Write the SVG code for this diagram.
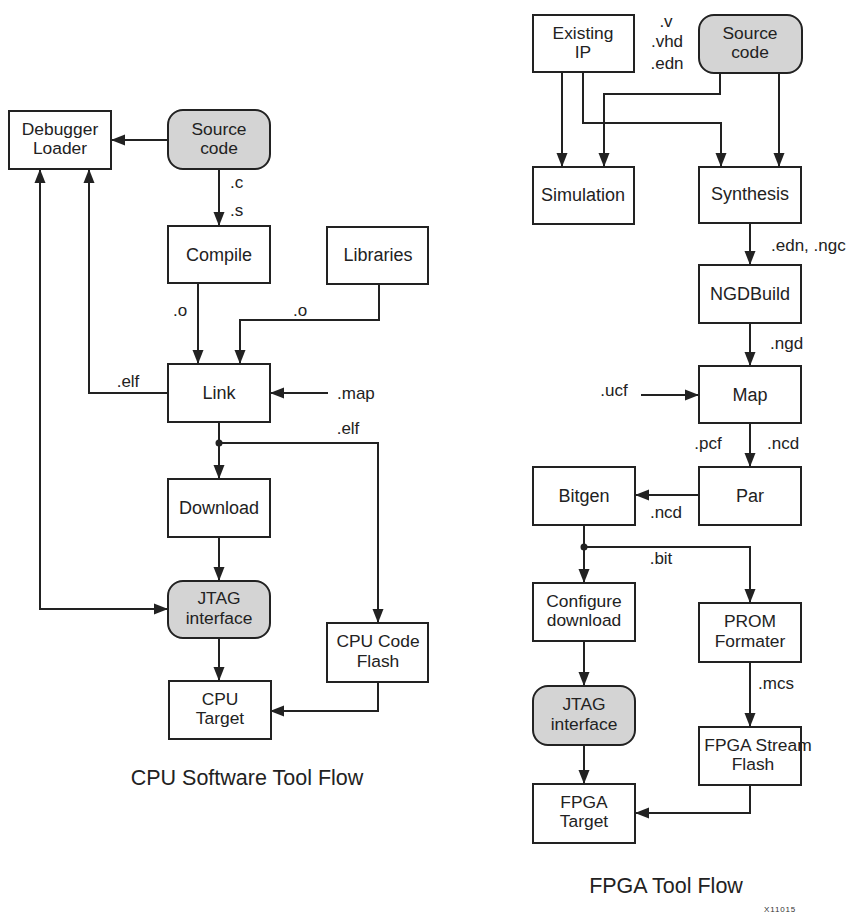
<svg xmlns="http://www.w3.org/2000/svg" width="852" height="913" viewBox="0 0 852 913">
<style>
.box{fill:#fff;stroke:#222;stroke-width:2}
.rbox{fill:#d4d4d4;stroke:#222;stroke-width:2}
.t{font-family:"Liberation Sans",Arial,sans-serif;font-size:18px;fill:#222;text-anchor:middle}
.t2{font-family:"Liberation Sans",Arial,sans-serif;font-size:17.4px;fill:#222;text-anchor:middle}
.l{font-family:"Liberation Sans",Arial,sans-serif;font-size:17px;fill:#222}
.c{text-anchor:middle}
.ttl{font-family:"Liberation Sans",Arial,sans-serif;font-size:21.5px;fill:#222;text-anchor:middle}
.w{fill:none;stroke:#222;stroke-width:2;marker-end:url(#ah)}
</style>
<defs>
<marker id="ah" markerUnits="userSpaceOnUse" markerWidth="14" markerHeight="12" refX="14" refY="6" orient="auto-start-reverse"><path d="M0,0.5 L14,6 L0,11.5 z" fill="#222"/></marker>
</defs>
<rect width="852" height="913" fill="#fff"/>

<g id="connectors">
<path class="w" d="M168,140 H111"/>
<path class="w" d="M219,169 V226"/>
<path class="w" d="M198,283 V364"/>
<path class="w" d="M379,284 V320 H240 V364"/>
<path class="w" d="M328,393 H270"/>
<path class="w" d="M168,393 H89 V169"/>
<path class="w" d="M219,422 V479"/>
<path class="w" d="M219,443 H378 V623"/>
<circle cx="219" cy="443" r="3.5" fill="#222"/>
<path class="w" d="M219,537 V581"/>
<path class="w" style="marker-start:url(#ah)" d="M40,169 V609 H168"/>
<path class="w" d="M219,638 V681"/>
<path class="w" d="M378,682 V711 H270"/>

<path class="w" d="M562,72 V167"/>
<path class="w" d="M583,72 V123 H721 V167"/>
<path class="w" d="M720,73 V94 H604 V167"/>
<path class="w" d="M779,73 V167"/>
<path class="w" d="M750,223 V265"/>
<path class="w" d="M750,323 V366"/>
<path class="w" d="M641,395 H699"/>
<path class="w" d="M750,423 V467"/>
<path class="w" d="M699,495 H635"/>
<path class="w" d="M584,525 V583"/>
<path class="w" d="M584,547 H750 V603"/>
<circle cx="584" cy="547" r="3.5" fill="#222"/>
<path class="w" d="M584,641 V686"/>
<path class="w" d="M584,745 V784"/>
<path class="w" d="M750,662 V727"/>
<path class="w" d="M750,785 V813 H635"/>
</g>

<g id="labels">
<text class="l" x="230" y="188">.c</text>
<text class="l" x="230" y="216">.s</text>
<text class="l c" x="180" y="316">.o</text>
<text class="l c" x="300" y="316">.o</text>
<text class="l" x="337" y="399">.map</text>
<text class="l c" x="128" y="387">.elf</text>
<text class="l c" x="348" y="434">.elf</text>

<text class="l c" x="666" y="27">.v</text>
<text class="l c" x="667" y="47">.vhd</text>
<text class="l c" x="667" y="69">.edn</text>
<text class="l" x="771" y="251">.edn, .ngc</text>
<text class="l" x="770" y="349">.ngd</text>
<text class="l c" x="614" y="396">.ucf</text>
<text class="l c" x="708" y="449">.pcf</text>
<text class="l" x="767" y="449">.ncd</text>
<text class="l c" x="666" y="518">.ncd</text>
<text class="l c" x="661" y="564">.bit</text>
<text class="l" x="758" y="689">.mcs</text>
</g>

<g id="debugger-loader"><rect class="box" x="9" y="111" width="102" height="58"/><text class="t2" x="60" y="134.5">Debugger</text><text class="t2" x="60" y="154">Loader</text></g>
<g id="source-code-cpu"><rect class="rbox" x="168" y="110" width="102" height="59" rx="15"/><text class="t2" x="219" y="134.5">Source</text><text class="t2" x="219" y="154">code</text></g>
<g id="compile"><rect class="box" x="168" y="226" width="102" height="57"/><text class="t" x="219" y="261">Compile</text></g>
<g id="libraries"><rect class="box" x="327" y="227" width="101" height="57"/><text class="t" x="378" y="261">Libraries</text></g>
<g id="link"><rect class="box" x="168" y="364" width="102" height="58"/><text class="t" x="219" y="399">Link</text></g>
<g id="download"><rect class="box" x="168" y="479" width="102" height="58"/><text class="t" x="219" y="514">Download</text></g>
<g id="jtag-cpu"><rect class="rbox" x="168" y="581" width="102" height="57" rx="15"/><text class="t2" x="219" y="604">JTAG</text><text class="t2" x="219" y="623.5">interface</text></g>
<g id="cpu-code-flash"><rect class="box" x="327" y="623" width="101" height="59"/><text class="t2" x="378" y="647">CPU Code</text><text class="t2" x="378" y="666.5">Flash</text></g>
<g id="cpu-target"><rect class="box" x="169" y="681" width="102" height="58"/><text class="t2" x="220" y="704.5">CPU</text><text class="t2" x="220" y="724">Target</text></g>
<text class="ttl" x="247" y="785">CPU Software Tool Flow</text>

<g id="existing-ip"><rect class="box" x="533" y="15" width="101" height="57"/><text class="t2" x="583" y="38.5">Existing</text><text class="t2" x="583" y="58">IP</text></g>
<g id="source-code-fpga"><rect class="rbox" x="699" y="15" width="103" height="58" rx="15"/><text class="t2" x="750" y="38.5">Source</text><text class="t2" x="750" y="58">code</text></g>
<g id="simulation"><rect class="box" x="533" y="167" width="101" height="57"/><text class="t" x="583" y="201">Simulation</text></g>
<g id="synthesis"><rect class="box" x="699" y="167" width="102" height="56"/><text class="t" x="750" y="200">Synthesis</text></g>
<g id="ngdbuild"><rect class="box" x="699" y="265" width="102" height="58"/><text class="t" x="750" y="300">NGDBuild</text></g>
<g id="map"><rect class="box" x="699" y="366" width="102" height="57"/><text class="t" x="750" y="401">Map</text></g>
<g id="par"><rect class="box" x="699" y="467" width="102" height="58"/><text class="t" x="750" y="502">Par</text></g>
<g id="bitgen"><rect class="box" x="533" y="467" width="102" height="58"/><text class="t" x="584" y="502">Bitgen</text></g>
<g id="configure-download"><rect class="box" x="533" y="583" width="102" height="58"/><text class="t2" x="584" y="606.5">Configure</text><text class="t2" x="584" y="626">download</text></g>
<g id="prom-formater"><rect class="box" x="699" y="603" width="102" height="59"/><text class="t2" x="750" y="627">PROM</text><text class="t2" x="750" y="646.5">Formater</text></g>
<g id="jtag-fpga"><rect class="rbox" x="533" y="686" width="102" height="59" rx="15"/><text class="t2" x="584" y="710">JTAG</text><text class="t2" x="584" y="729.5">interface</text></g>
<g id="fpga-stream-flash"><rect class="box" x="699" y="727" width="102" height="58"/><text class="t2" x="758" y="750.5">FPGA Stream</text><text class="t2" x="753" y="770">Flash</text></g>
<g id="fpga-target"><rect class="box" x="533" y="784" width="102" height="59"/><text class="t2" x="584" y="807.5">FPGA</text><text class="t2" x="584" y="827">Target</text></g>
<text class="ttl" x="666" y="893">FPGA Tool Flow</text>
<text x="780" y="912" font-family="Liberation Sans,Arial,sans-serif" font-size="8" fill="#333" text-anchor="middle" letter-spacing="0.8">X11015</text>
</svg>
